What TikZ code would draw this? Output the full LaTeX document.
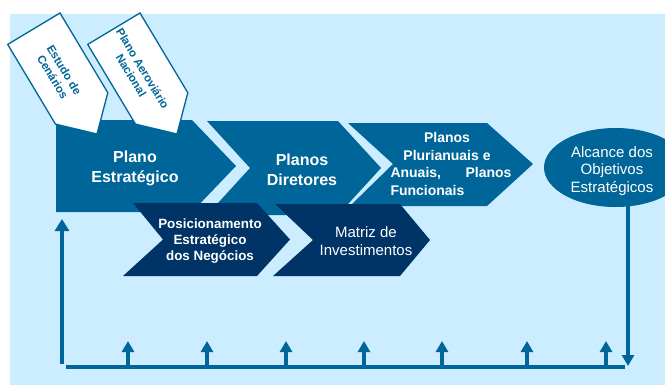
\documentclass[tikz,border=0pt]{standalone}
\usepackage{fontspec}
\setmainfont{Liberation Sans}
\usetikzlibrary{arrows.meta}
\definecolor{bgblue}{HTML}{CCECFF}
\definecolor{midblue}{HTML}{006699}
\definecolor{navy}{HTML}{003366}
\tikzset{
  chev/.style={fill=midblue},
  darkchev/.style={fill=navy},
  tagbox/.style={fill=white, draw=midblue, line width=1.3bp, line join=miter},
  tagtxt/.style={text=midblue, font=\bfseries\fontsize{11.5bp}{13.5bp}\selectfont, align=center, rotate=-59, inner sep=0pt},
  wtxt/.style={text=white, align=center, inner sep=0pt},
  baseline/.style={draw=midblue, line width=3.3bp},
  uparrow/.style={draw=midblue, line width=4.5bp, -{Triangle[width=12bp,length=11bp]}},
  bigarrow/.style={draw=midblue, line width=3.3bp, -{Triangle[width=14bp,length=12bp]}}
}
\begin{document}
\begin{tikzpicture}[x=1bp,y=-1bp]
\useasboundingbox (0,0) rectangle (665,385);
\clip (0,0) rectangle (665,385);
\fill[bgblue] (10,14) rectangle (665,385);

% main chevrons
\fill[chev] (56,120) -- (192,120) -- (236,166) -- (192,212) -- (56,212) -- cycle;
\fill[chev] (207,121) -- (338,121) -- (381,168) -- (338,215) -- (207,215) -- (250,168) -- cycle;
\fill[chev] (348,123) -- (487,123) -- (533,164) -- (487,206) -- (350,206) -- (393,164) -- cycle;

% dark chevrons
\fill[darkchev] (133,203) -- (257,203) -- (290,239.5) -- (257,276) -- (123,276) -- (163,239.5) -- cycle;
\fill[darkchev] (275,204) -- (400,204) -- (430,240) -- (400,276) -- (273,276) -- (313,240) -- cycle;

% tags
\draw[tagbox] (60,13) -- (7.7,44.4) -- (55.5,124.1) -- (97,134) -- (107.8,92.7) -- cycle;
\draw[tagbox] (140,13) -- (87.7,44.4) -- (135.5,124.1) -- (177,134) -- (187.8,92.7) -- cycle;
\node[tagtxt] (t1) at (58.5,73.5) {Estudo de\\Cenários};
\node[tagtxt] (t2) at (137,72) {Plano Aeroviário\\Nacional};

% texts
\node[wtxt, font=\bfseries\fontsize{16bp}{20bp}\selectfont] (pe) at (135,168) {Plano\\Estratégico};
\node[wtxt, font=\bfseries\fontsize{16bp}{20bp}\selectfont] (pd) at (302,170) {Planos\\Diretores};
\node[wtxt, font=\bfseries\fontsize{14bp}{17.5bp}\selectfont, align=left] (pp) at (451,164)
  {\makebox[121bp]{Planos\hspace{8bp}}\\\makebox[121bp]{Plurianuais e\hspace{8bp}}\\\makebox[121bp][s]{Anuais,\hfill Planos}\\Funcionais};
\node[wtxt, font=\bfseries\fontsize{13.4bp}{16bp}\selectfont] (pn) at (210,241) {Posicionamento\\Estratégico\\dos Negócios};
\node[wtxt, font=\fontsize{15bp}{18bp}\selectfont] (mi) at (366,241) {Matriz de\\Investimentos};

% ellipse
\fill[midblue] (615.5,167.5) ellipse [x radius=71.5, y radius=39.5];
\node[wtxt, font=\fontsize{15bp}{17.5bp}\selectfont] (al) at (612,171) {Alcance dos\\Objetivos\\Estratégicos};

% feedback loop
\coordinate (ellb) at (628,205);
\coordinate (dn) at (628,366);
\coordinate (lb) at (62,364);
\coordinate (peb) at (62,219);
\coordinate (h1) at (66,367);
\coordinate (h2) at (625,367);
\draw[baseline] (h1) -- (h2);
\draw[bigarrow] (lb) -- (peb);
\draw[uparrow] (ellb) -- (dn);
\foreach \x [count=\i] in {128,207,286,364,442,527,606}{
  \coordinate (a\i) at (\x,367);
  \coordinate (b\i) at (\x,341);
  \draw[uparrow] (a\i) -- (b\i);
}
\end{tikzpicture}
\end{document}
